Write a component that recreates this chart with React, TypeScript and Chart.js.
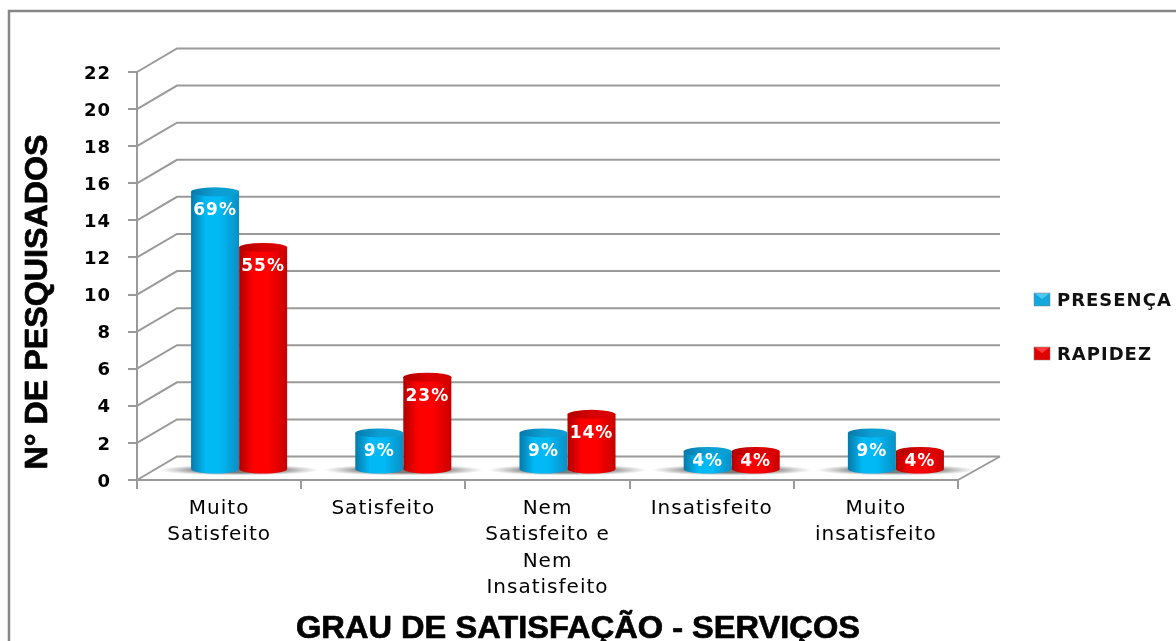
import React, { useEffect, useRef } from "react";
import { Chart, registerables } from "chart.js";

Chart.register(...registerables);

const categories = [
  ["Muito", "Satisfeito"],
  ["Satisfeito"],
  ["Nem", "Satisfeito e", "Nem", "Insatisfeito"],
  ["Insatisfeito"],
  ["Muito", "insatisfeito"],
];
const presenca = [15, 2, 2, 1, 2];
const rapidez = [12, 5, 3, 1, 1];
const presencaLabels = ["69%", "9%", "9%", "4%", "9%"];
const rapidezLabels = ["55%", "23%", "14%", "4%", "4%"];
const yMax = 22;
const yStep = 2;
const xTitle = "GRAU DE SATISFAÇÃO - SERVIÇOS";
const yTitle = "N° DE PESQUISADOS";

const GRID = "#9a9a9a";
const DX = 40;
const DY = 23.5;
const BAR_DX = 20;
const BAR_DY = -10;
const CAT_PCT = 0.585;
const RY = 4.5;

const palettes = [
  { edge: "#0878a8", mid: "#00b9f5", right: "#0a8fc4", cap: "#0c9fd4", soft: "#4cc8ee", swatch: "#12a8de" },
  { edge: "#b00000", mid: "#ff0000", right: "#c80000", cap: "#d80000", soft: "#ff3a3a", swatch: "#e00000" },
];

function bodyGradient(ctx: CanvasRenderingContext2D, x0: number, x1: number, p: any) {
  const g = ctx.createLinearGradient(x0, 0, x1, 0);
  g.addColorStop(0, p.edge);
  g.addColorStop(0.3, p.mid);
  g.addColorStop(0.6, p.mid);
  g.addColorStop(1, p.right);
  return g;
}

function fitText(ctx: any, text: string, x: number, y: number, width: number, font: string, rotate = 0) {
  ctx.save();
  ctx.letterSpacing = "0px";
  ctx.font = font;
  ctx.fillStyle = "#000";
  ctx.strokeStyle = "#000";
  ctx.lineWidth = 0.7;
  ctx.lineJoin = "round";
  ctx.textAlign = "center";
  ctx.textBaseline = "middle";
  ctx.translate(x, y);
  ctx.rotate(rotate);
  ctx.scale(width / (ctx.measureText(text).width + 1), 1);
  ctx.fillText(text, 0, 0);
  ctx.strokeText(text, 0, 0);
  ctx.restore();
}

const scenePlugin = {
  id: "scene",
  beforeDraw(chart: any) {
    const { ctx, width, height } = chart;
    ctx.letterSpacing = "1px";
    ctx.save();
    ctx.fillStyle = "#fff";
    ctx.fillRect(0, 0, width, height);
    ctx.strokeStyle = "#868686";
    ctx.lineWidth = 2.5;
    ctx.beginPath();
    ctx.moveTo(9, height);
    ctx.lineTo(9, 11);
    ctx.lineTo(width, 11);
    ctx.stroke();
    ctx.restore();
  },
  beforeDatasetsDraw(chart: any) {
    const { ctx, chartArea, scales } = chart;
    const { left, right, bottom } = chartArea;
    ctx.save();
    ctx.strokeStyle = GRID;
    ctx.lineWidth = 2;
    scales.y.ticks.forEach((t: any) => {
      const y = scales.y.getPixelForValue(t.value);
      ctx.beginPath();
      ctx.moveTo(left, y);
      ctx.lineTo(left + DX, y - DY);
      ctx.lineTo(right + DX + 2, y - DY);
      ctx.stroke();
    });
    ctx.beginPath();
    ctx.moveTo(right, bottom);
    ctx.lineTo(right + DX + 2, bottom - DY);
    ctx.stroke();
    ctx.restore();

    // soft floor shadows, then bars shifted onto the floor
    ctx.save();
    ctx.translate(BAR_DX, BAR_DY);
    const step = (right - left) / categories.length;
    const half = (step * CAT_PCT) / 2;
    categories.forEach((_, i) => {
      const cx = scales.x.getPixelForValue(i);
      ctx.save();
      ctx.translate(cx, bottom);
      ctx.scale(half + 32, 5.5);
      const g = ctx.createRadialGradient(0, 0, 0.5, 0, 0, 1);
      g.addColorStop(0, "rgba(80,80,80,0.75)");
      g.addColorStop(1, "rgba(130,130,130,0)");
      ctx.fillStyle = g;
      ctx.beginPath();
      ctx.arc(0, 0, 1, 0, Math.PI * 2);
      ctx.fill();
      ctx.restore();
    });
  },
  afterDatasetDraw(chart: any, args: any) {
    const { ctx } = chart;
    const p = palettes[args.index];
    args.meta.data.forEach((bar: any) => {
      const w = bar.width / 2;
      ctx.fillStyle = bodyGradient(ctx, bar.x - w, bar.x + w, p);
      ctx.beginPath();
      ctx.ellipse(bar.x, bar.base, w, RY, 0, 0, Math.PI);
      ctx.fill();
    });
  },
  afterDatasetsDraw(chart: any) {
    const { ctx } = chart;
    [0, 1].forEach((i) => {
      const p = palettes[i];
      chart.getDatasetMeta(i).data.forEach((bar: any) => {
        const w = bar.width / 2;
        const capG = ctx.createLinearGradient(bar.x - w, 0, bar.x + w, 0);
        capG.addColorStop(0, p.edge);
        capG.addColorStop(0.5, p.cap);
        capG.addColorStop(1, p.cap);
        ctx.fillStyle = capG;
        ctx.beginPath();
        ctx.ellipse(bar.x, bar.y, w, RY, 0, 0, Math.PI * 2);
        ctx.fill();
      });
    });
    [0, 1].forEach((i) => {
      const labels = i === 0 ? presencaLabels : rapidezLabels;
      chart.getDatasetMeta(i).data.forEach((bar: any, k: number) => {
        const h = bar.base - bar.y;
        ctx.font = "bold 17px 'DejaVu Sans'";
        ctx.fillStyle = "#fff";
        ctx.textAlign = "center";
        ctx.textBaseline = "middle";
        ctx.fillText(labels[k], bar.x, bar.y + Math.min(19, h * 0.6));
      });
    });
    ctx.restore();
  },
  afterDraw(chart: any) {
    const { ctx } = chart;
    fitText(ctx, xTitle, 578, 629, 565, "bold 32px 'Liberation Sans'");
    fitText(ctx, yTitle, 38, 302, 336, "bold 32px 'Liberation Sans'", -Math.PI / 2);

    // legend
    const entries: [string, number, number][] = [
      ["PRESENÇA", 299, 0],
      ["RAPIDEZ", 353, 1],
    ];
    entries.forEach(([name, y, i]) => {
      const p = palettes[i];
      ctx.save();
      ctx.fillStyle = p.swatch;
      ctx.fillRect(1034, y - 6, 16, 13);
      ctx.fillStyle = p.soft;
      ctx.beginPath();
      ctx.moveTo(1034, y - 6);
      ctx.lineTo(1050, y - 6);
      ctx.lineTo(1042, y);
      ctx.closePath();
      ctx.fill();
      ctx.strokeStyle = "rgba(130,130,130,0.5)";
      ctx.lineWidth = 1;
      ctx.strokeRect(1034, y - 6, 16, 13);
      ctx.font = "bold 18px 'DejaVu Sans'";
      ctx.fillStyle = "#111";
      ctx.textAlign = "left";
      ctx.textBaseline = "middle";
      ctx.fillText(name, 1057, y + 2);
      ctx.restore();
    });
  },
};

function barFill(context: any) {
  const chart = context.chart;
  const i = context.datasetIndex;
  const p = palettes[i];
  const x = chart.scales?.x;
  if (!x || context.dataIndex === undefined || !chart.chartArea) return p.mid;
  const step = (chart.chartArea.right - chart.chartArea.left) / categories.length;
  const w = (step * CAT_PCT) / 2;
  const c = x.getPixelForValue(context.dataIndex);
  const x0 = i === 0 ? c - w : c;
  return bodyGradient(chart.ctx, x0, x0 + w, p);
}

export default function App() {
  const ref = useRef<HTMLCanvasElement>(null);
  useEffect(() => {
    document.body.style.margin = "0";
    document.body.style.overflow = "hidden";
    const chart = new Chart(ref.current!, {
      type: "bar",
      data: {
        labels: categories,
        datasets: [
          { label: "PRESENÇA", data: presenca, backgroundColor: barFill, borderWidth: 0, clip: false },
          { label: "RAPIDEZ", data: rapidez, backgroundColor: barFill, borderWidth: 0, clip: false },
        ] as any,
      },
      plugins: [scenePlugin],
      options: {
        animation: false,
        responsive: false,
        layout: { padding: { top: 72, right: 218, left: 0, bottom: 0 } },
        plugins: { legend: { display: false }, title: { display: false }, tooltip: { enabled: false } },
        datasets: { bar: { categoryPercentage: CAT_PCT, barPercentage: 1 } },
        scales: {
          x: {
            afterFit: (s: any) => { s.height = 161; },
            grid: { drawOnChartArea: false, tickLength: 9, color: GRID, lineWidth: 2 },
            border: { color: GRID, width: 2 },
            ticks: {
              maxRotation: 0,
              minRotation: 0,
              autoSkip: false,
              padding: 6.5,
              color: "#000",
              font: { family: "'DejaVu Sans'", size: 20, lineHeight: 1.32 },
            },
          },
          y: {
            min: 0,
            max: yMax,
            afterFit: (s: any) => { s.width = 137; },
            grid: { drawOnChartArea: false, tickLength: 9, color: GRID, lineWidth: 2 },
            border: { color: GRID, width: 2 },
            ticks: {
              stepSize: yStep,
              padding: 17,
              labelOffset: 2,
              color: "#000",
              font: { family: "'DejaVu Sans'", size: 18, weight: "bold" },
            },
          },
        },
      } as any,
    });
    return () => chart.destroy();
  }, []);
  return <canvas ref={ref} width={1176} height={641} style={{ display: "block", width: 1176, height: 641, filter: "blur(0.4px)" }} />;
}
